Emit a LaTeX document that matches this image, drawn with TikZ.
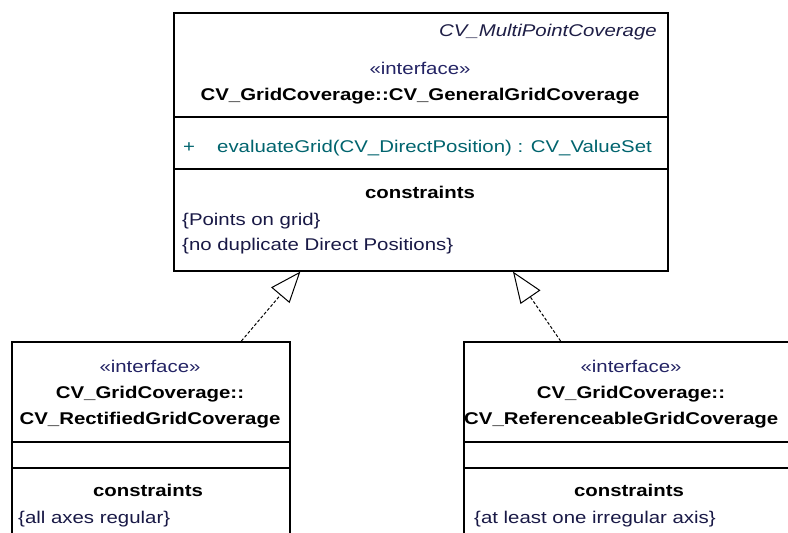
\documentclass[tikz,border=0pt]{standalone}
\usepackage{fontspec}
\setmainfont[FakeStretch=1.2]{Liberation Sans}
\usetikzlibrary{arrows.meta,calc}
\definecolor{stereo}{RGB}{35,35,100}
\definecolor{opcol}{RGB}{0,100,110}
\definecolor{conscol}{RGB}{25,25,70}
\definecolor{metacol}{RGB}{30,30,70}
\tikzset{
  umlbox/.style={draw=black, line width=1.6pt, fill=white, rectangle, inner sep=0pt},
  divider/.style={draw=black, line width=1.6pt},
  realize/.style={draw=black, line width=1pt, dash pattern=on 3pt off 2pt,
    -{Triangle[open, length=31pt, width=24pt, fill=white]}},
  lbl/.style={inner sep=0pt, font=\fontsize{17}{20}\selectfont},
  bname/.style={lbl, font=\fontsize{17}{20}\selectfont\bfseries},
}
\begin{document}
\begin{tikzpicture}[x=1pt, y=-1pt]
\useasboundingbox (0,0) rectangle (788,533);
\clip (0,0) rectangle (788,533);
\fill[white] (0,0) rectangle (788,533);

% class boxes
\node[umlbox, anchor=north west, minimum width=494pt, minimum height=258pt] (general) at (173,12) {};
\node[umlbox, anchor=north west, minimum width=278pt, minimum height=230pt] (rectified) at (11,341) {};
\node[umlbox, anchor=north west, minimum width=336pt, minimum height=230pt] (referenceable) at (463,341) {};

% compartment lines
\draw[divider] (173,117) -- (667,117);
\draw[divider] (173,169) -- (667,169);
\draw[divider] (11,442) -- (289,442);
\draw[divider] (11,468) -- (289,468);
\draw[divider] (463,442) -- (799,442);
\draw[divider] (463,468) -- (799,468);

% general grid coverage
\node[lbl, anchor=base east, text=metacol] (gparent) at (657,36) {\itshape CV\_MultiPointCoverage};
\node[lbl, anchor=base, text=stereo] (gstereo) at (420,74) {«interface»};
\node[bname, anchor=base] (gname) at (420,100) {CV\_GridCoverage::CV\_GeneralGridCoverage};
\node[lbl, anchor=base west, text=opcol] (gplus) at (183,152) {+};
\node[lbl, anchor=base west, text=opcol] (gop) at (217,152) {evaluateGrid(CV\_DirectPosition) : CV\_ValueSet};
\node[bname, anchor=base] (gcons) at (420,198) {constraints};
\node[lbl, anchor=base west, text=conscol] (gc1) at (182,225) {\{Points on grid\}};
\node[lbl, anchor=base west, text=conscol] (gc2) at (182,250) {\{no duplicate Direct Positions\}};

% rectified grid coverage
\node[lbl, anchor=base, text=stereo] (rstereo) at (150,372) {«interface»};
\node[bname, anchor=base] (rname1) at (150,398) {CV\_GridCoverage::};
\node[bname, anchor=base] (rname2) at (150,424) {CV\_RectifiedGridCoverage};
\node[bname, anchor=base] (rcons) at (148,496) {constraints};
\node[lbl, anchor=base west, text=conscol] (rc1) at (18,523) {\{all axes regular\}};

% referenceable grid coverage
\node[lbl, anchor=base, text=stereo] (fstereo) at (631,372) {«interface»};
\node[bname, anchor=base] (fname1) at (631,398) {CV\_GridCoverage::};
\node[bname, anchor=base west] (fname2) at (464,424) {CV\_ReferenceableGridCoverage};
\node[bname, anchor=base] (fcons) at (629,496) {constraints};
\node[lbl, anchor=base west, text=conscol] (fc1) at (474,523) {\{at least one irregular axis\}};

% realization connectors
\draw[realize] ($(rectified.north west)!0.824!(rectified.north east)$) -- ($(general.south west)!0.257!(general.south east)$);
\draw[realize] ($(referenceable.north west)!0.289!(referenceable.north east)$) -- ($(general.south west)!0.686!(general.south east)$);
\end{tikzpicture}
\end{document}
